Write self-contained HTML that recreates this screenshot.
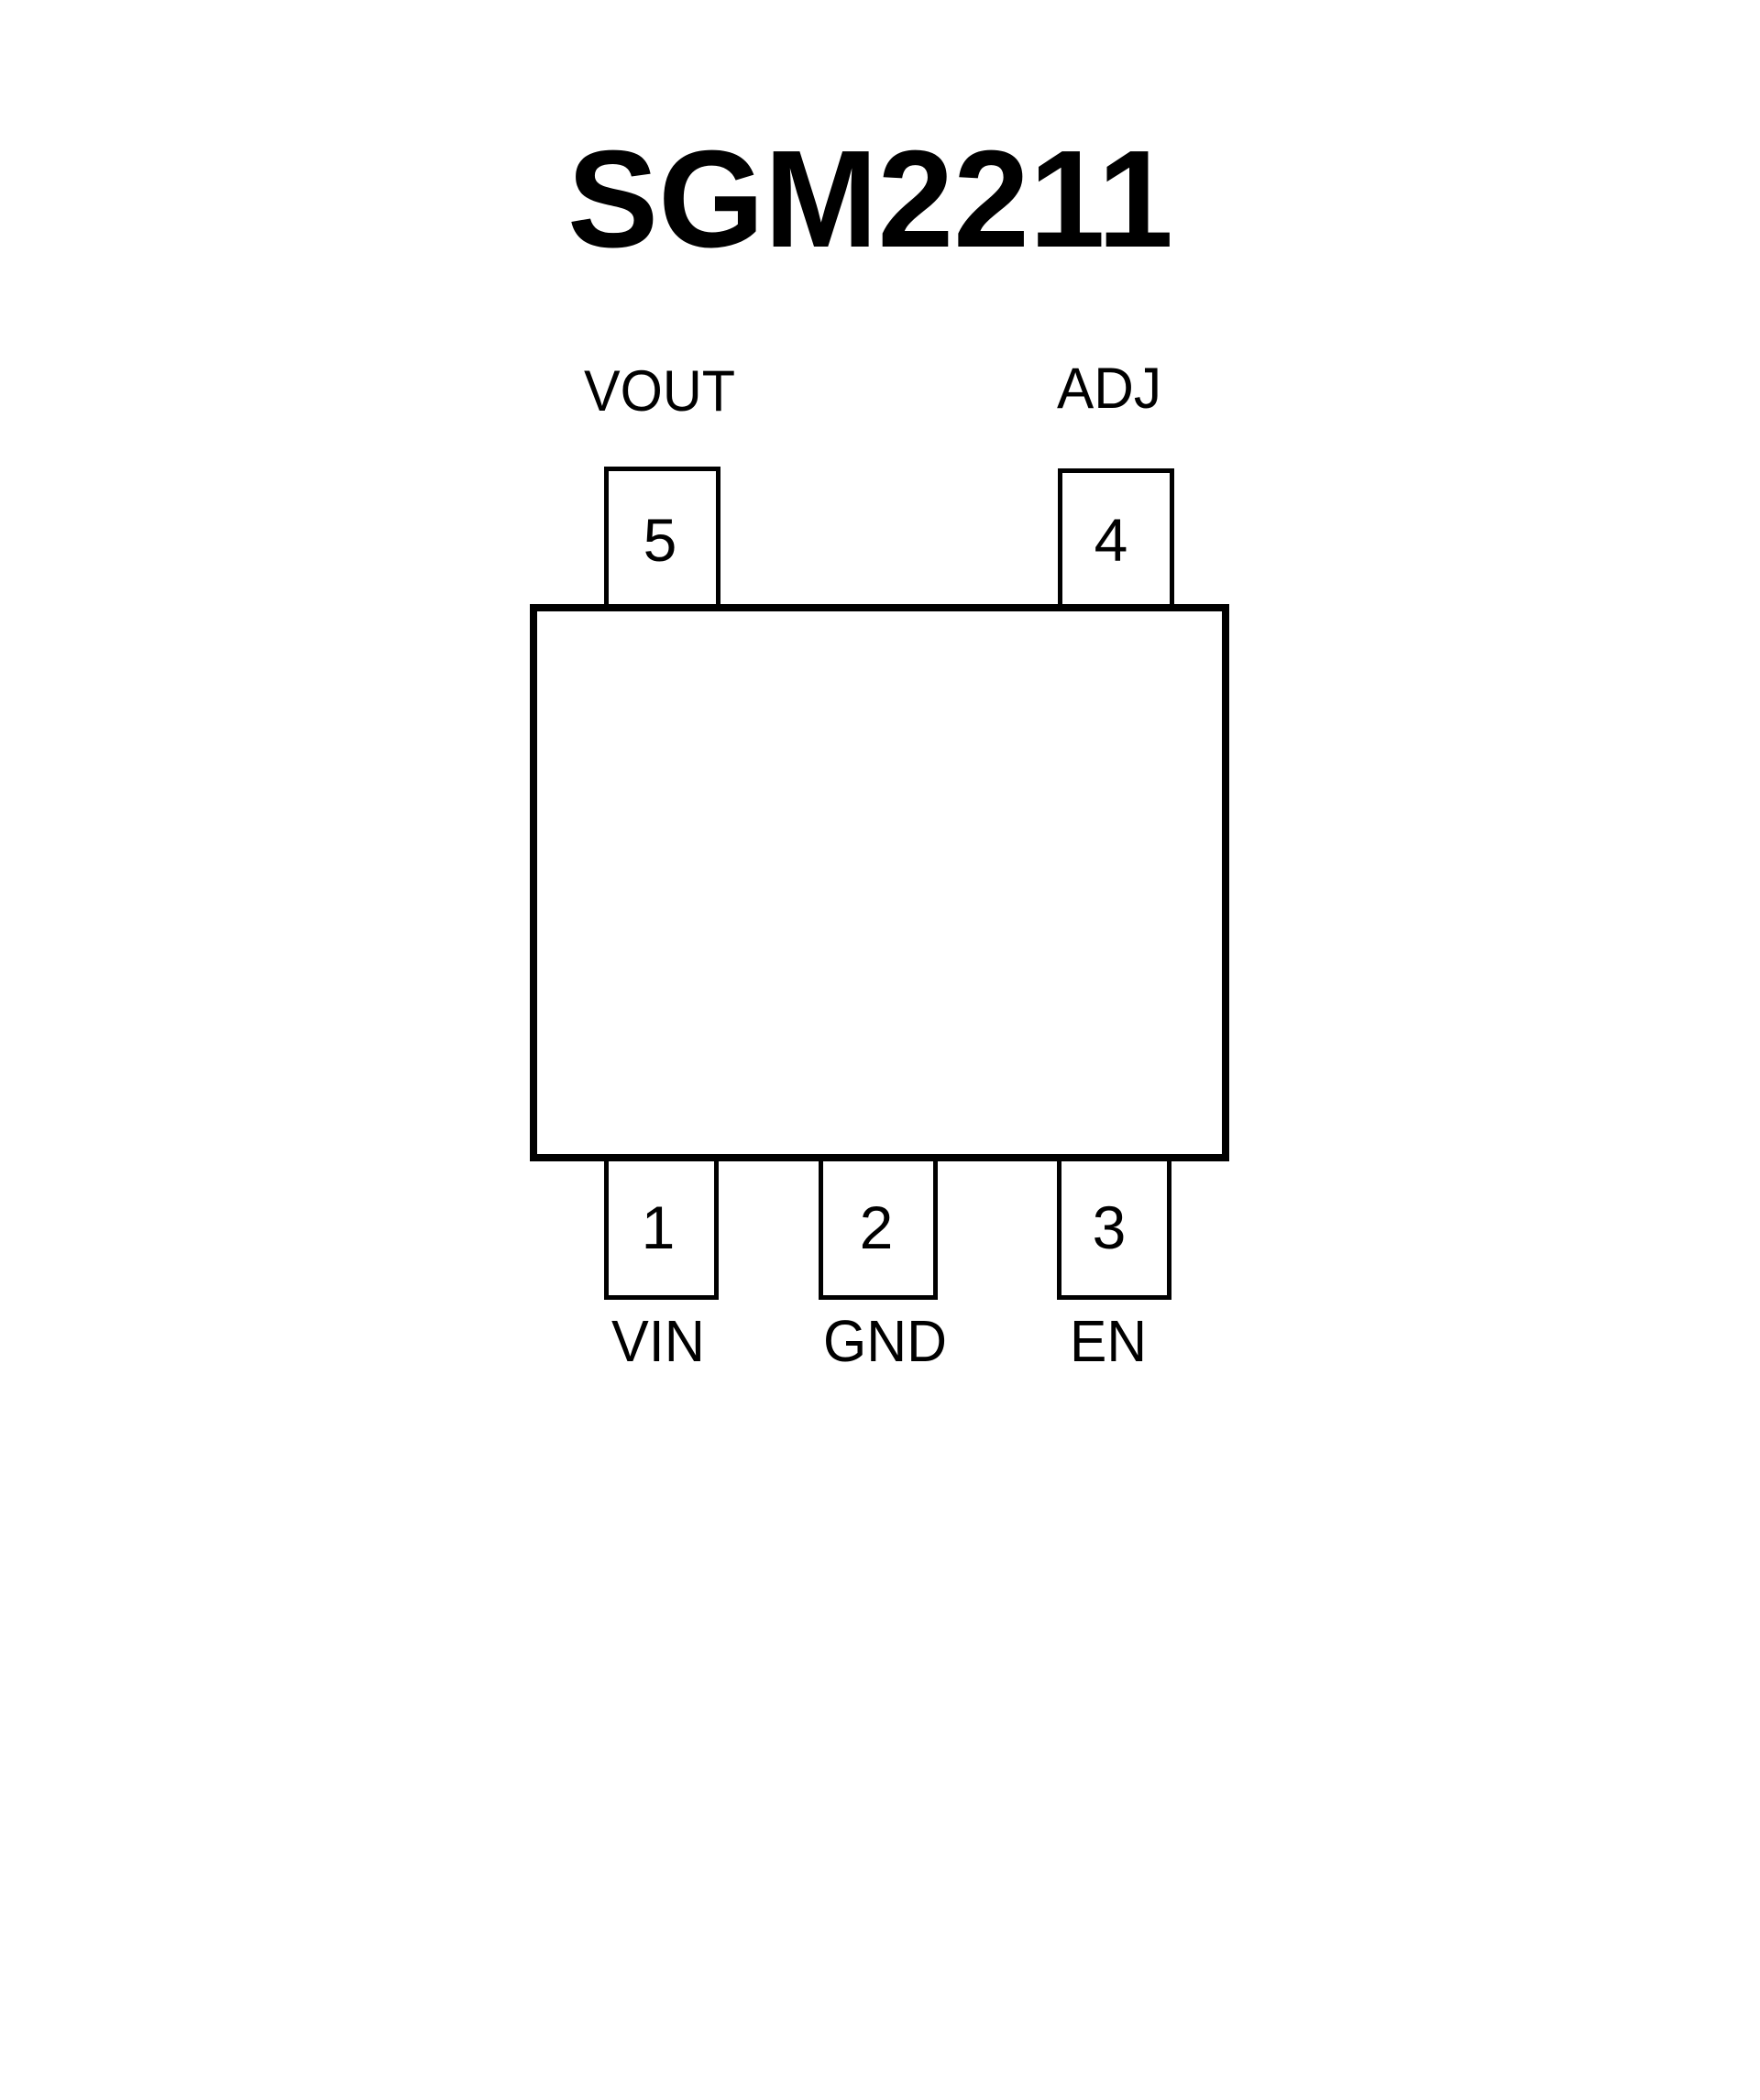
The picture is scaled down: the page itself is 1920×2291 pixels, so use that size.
<!DOCTYPE html>
<html><head><style>html,body{margin:0;padding:0;background:#fff;}svg{display:block}</style></head>
<body>
<svg width="1920" height="2291" viewBox="0 0 1920 2291" xmlns="http://www.w3.org/2000/svg">
<rect width="1920" height="2291" fill="#fff"/>
<text x="619" y="269" font-family="Liberation Sans, sans-serif" font-weight="bold" font-size="151" textLength="661" lengthAdjust="spacingAndGlyphs">SGM2211</text>
<g font-family="Liberation Sans, sans-serif" fill="#000">
<text x="637" y="448" font-size="63" textLength="165" lengthAdjust="spacingAndGlyphs">VOUT</text>
<text x="1153" y="445" font-size="63" textLength="114" lengthAdjust="spacingAndGlyphs">ADJ</text>
<text x="667" y="1485" font-size="64" textLength="102" lengthAdjust="spacingAndGlyphs">VIN</text>
<text x="898" y="1485" font-size="64" textLength="135" lengthAdjust="spacingAndGlyphs">GND</text>
<text x="1167" y="1485" font-size="64" textLength="84" lengthAdjust="spacingAndGlyphs">EN</text>
<g font-size="66" text-anchor="middle">
<text x="720" y="612">5</text>
<text x="1212" y="612">4</text>
<text x="718" y="1362">1</text>
<text x="956" y="1362">2</text>
<text x="1210" y="1362">3</text>
</g>
</g>
<g fill="none" stroke="#000" stroke-width="5">
<path d="M661.5 659 V511.5 H783.5 V659"/>
<path d="M1156.5 659 V513.5 H1278.5 V659"/>
<path d="M661.5 1267 V1415.5 H781.5 V1267"/>
<path d="M895.5 1267 V1415.5 H1020.5 V1267"/>
<path d="M1155.5 1267 V1415.5 H1275.5 V1267"/>
</g>
<rect x="582" y="663" width="755" height="600" fill="none" stroke="#000" stroke-width="8"/>
</svg>
</body></html>
